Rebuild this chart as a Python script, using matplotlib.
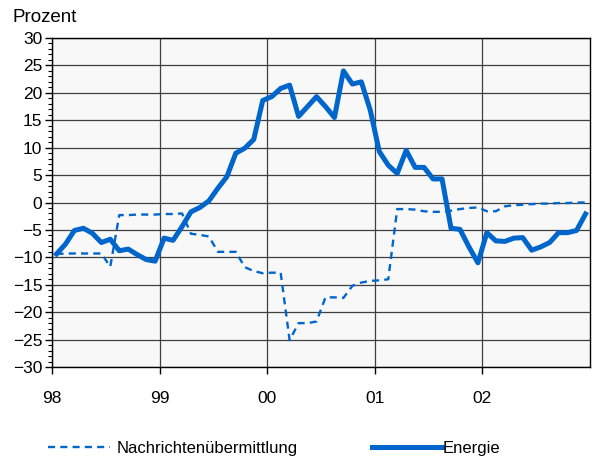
import matplotlib
matplotlib.use("Agg")
import matplotlib.pyplot as plt
from matplotlib.ticker import MultipleLocator, FixedLocator
import numpy as np

plt.rcParams['font.family'] = ['Liberation Sans', 'DejaVu Sans']

years = ["98", "99", "00", "01", "02"]

energie = [
    -9.4, -7.6, -5.1, -4.7, -5.6, -7.3, -6.7, -8.8, -8.5, -9.5, -10.4, -10.7,
    -6.5, -6.9, -4.4, -1.7, -0.9, 0.3, 2.6, 4.7, 9.0, 9.9, 11.5, 18.6,
    19.3, 20.8, 21.4, 15.7, 17.5, 19.3, 17.5, 15.5, 24.0, 21.6, 22.0, 16.8,
    9.3, 6.8, 5.3, 9.5, 6.4, 6.4, 4.3, 4.3, -4.7, -4.9, -8.1, -11.0,
    -5.5, -7.0, -7.1, -6.5, -6.4, -8.7, -8.1, -7.3, -5.5, -5.5, -5.1, -2.1,
]

nachrichten = [
    -9.4, -9.3, -9.3, -9.3, -9.3, -9.3, -11.7, -2.3, -2.3, -2.2, -2.2, -2.2,
    -2.1, -2.1, -2.0, -5.7, -5.9, -6.2, -9.0, -9.0, -9.0, -11.8, -12.5, -12.9,
    -12.8, -12.8, -25.1, -22.0, -22.0, -21.7, -17.3, -17.3, -17.4, -15.2, -14.6, -14.3,
    -14.2, -14.0, -1.2, -1.2, -1.3, -1.6, -1.7, -1.7, -1.5, -1.2, -1.0, -0.9,
    -1.6, -1.6, -0.7, -0.5, -0.4, -0.3, -0.2, -0.2, -0.1, -0.1, 0.0, 0.0,
]

x = (np.arange(len(energie)) + 0.5) / 12.0

color = '#0066CC'
fig = plt.figure(figsize=(5.92, 4.61), dpi=100)
ax = fig.add_axes([52/592, 94/461, 538/592, 329/461])
ax.set_facecolor('#F8F8F8')

l1, = ax.plot(x, nachrichten, color=color, lw=1.7, ls=(0, (3, 2.2)), zorder=3)
l2, = ax.plot(x, energie, color=color, lw=3.6, solid_joinstyle='round', zorder=4)

ax.set_xlim(0, 5)
ax.set_ylim(-30, 30)
ax.yaxis.set_major_locator(MultipleLocator(5))
ax.yaxis.set_minor_locator(MultipleLocator(1))
ax.xaxis.set_major_locator(FixedLocator(range(5)))
ax.set_xticklabels(years)
ax.grid(True, which='major', color='#404040', lw=0.9, zorder=1)
ax.set_axisbelow(True)
for s in ax.spines.values():
    s.set_color('black')
    s.set_linewidth(1.0)
ax.tick_params(axis='y', which='major', length=5, width=1, labelsize=12.5, pad=2)
ax.tick_params(axis='y', which='minor', length=3, width=0.8)
ax.tick_params(axis='x', which='major', length=5, width=1, labelsize=12.5, pad=12)

fig.text(12/592, 1 - 17/461, "Prozent", fontsize=13.5, va='center', ha='left')

leg1 = fig.legend([l1], ["Nachrichtenübermittlung"], loc='center left',
                  bbox_to_anchor=(33/592, 1 - 448/461), frameon=False,
                  fontsize=12, handlelength=3.7, handletextpad=0.4)
leg2 = fig.legend([l2], ["Energie"], loc='center left',
                  bbox_to_anchor=(357/592, 1 - 448/461), frameon=False,
                  fontsize=12, handlelength=4.2, handletextpad=0.05)

fig.savefig("out.png", dpi=100)
